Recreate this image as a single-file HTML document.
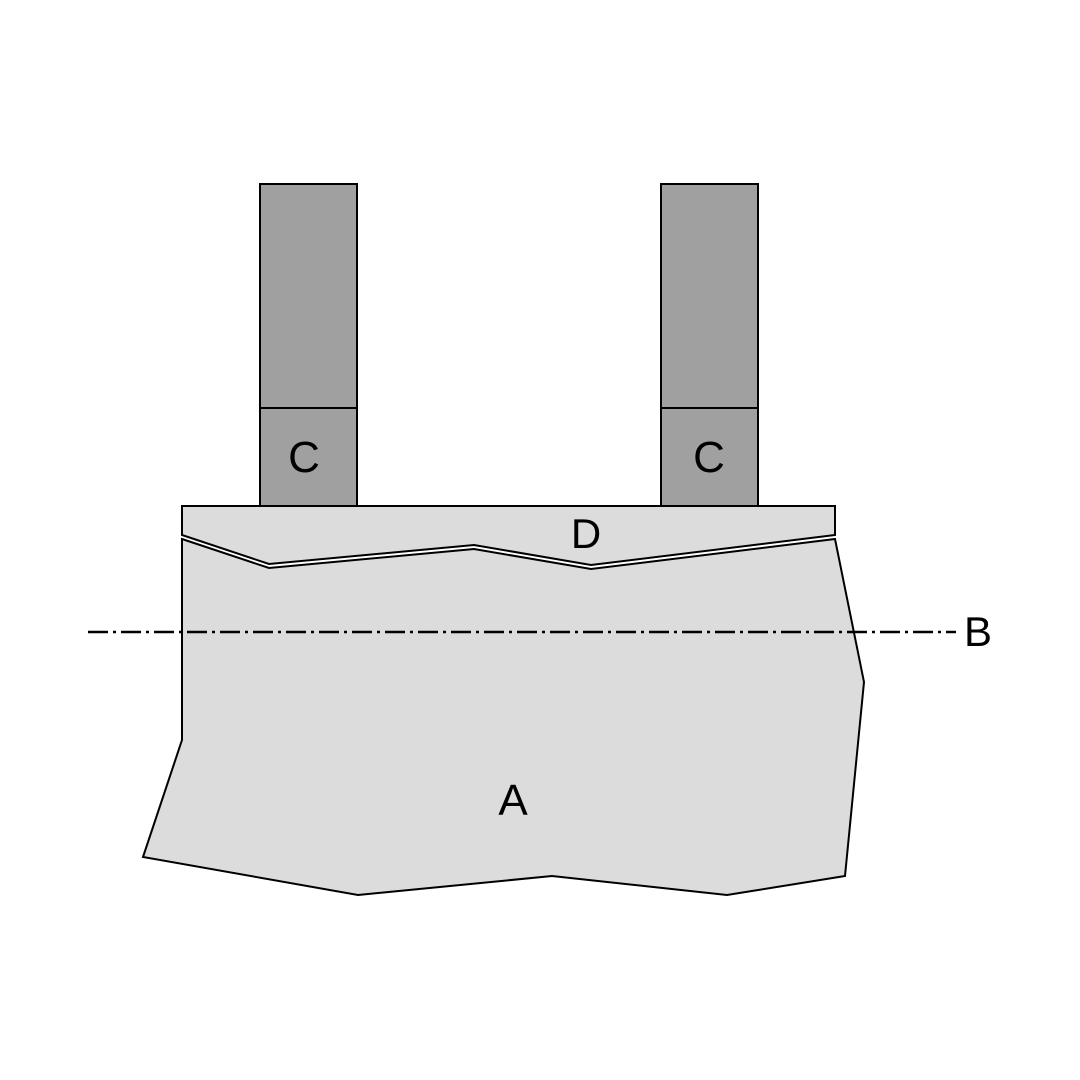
<!DOCTYPE html>
<html><head><meta charset="utf-8"><style>
html,body{margin:0;padding:0;background:#fff;}
svg{display:block;}
text{font-family:"Liberation Sans",sans-serif;fill:#000;}
</style></head><body>
<svg width="1080" height="1080" viewBox="0 0 1080 1080" xmlns="http://www.w3.org/2000/svg">
<rect x="0" y="0" width="1080" height="1080" fill="#fff"/>
<!-- C posts -->
<rect x="260" y="184" width="97" height="322" fill="#a0a0a0" stroke="#000" stroke-width="2"/>
<line x1="260" y1="408" x2="357" y2="408" stroke="#000" stroke-width="2"/>
<rect x="661" y="184" width="97" height="322" fill="#a0a0a0" stroke="#000" stroke-width="2"/>
<line x1="661" y1="408" x2="758" y2="408" stroke="#000" stroke-width="2"/>
<!-- A -->
<polygon points="182,539 269,568 474,549 591,569 835,539 864,682 845,876 727,895 552,876 358,895 143,857 182,740" fill="#dcdcdc" stroke="#000" stroke-width="2" stroke-linejoin="miter"/>
<!-- D -->
<polygon points="182,506 835,506 835,535 591,565 474,545 269,564 182,535" fill="#dcdcdc" stroke="#000" stroke-width="2"/>
<!-- B line -->
<line x1="88" y1="632" x2="956" y2="632" stroke="#000" stroke-width="2.5" stroke-dasharray="20 5 3 5"/>
<text x="304" y="472" font-size="44" text-anchor="middle">C</text>
<text x="709" y="472" font-size="44" text-anchor="middle">C</text>
<text x="586" y="548" font-size="42" text-anchor="middle">D</text>
<text x="978" y="646" font-size="42" text-anchor="middle">B</text>
<text x="513" y="815" font-size="44" text-anchor="middle">A</text>
</svg>
</body></html>
